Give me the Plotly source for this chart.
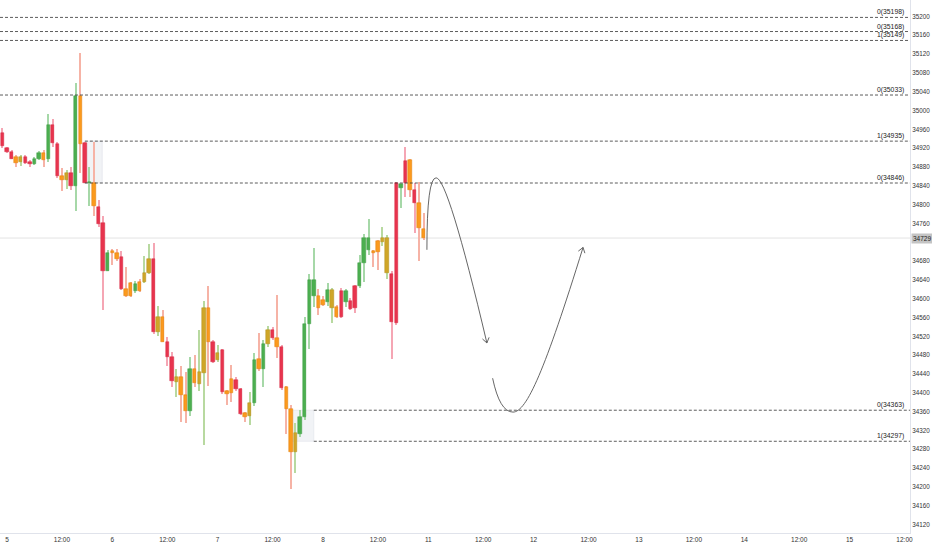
import plotly.graph_objects as go

# velas de 1 hora, barra 0 = inicio del dia 5 (23 barras por dia)
barra = list(range(-1, 92))
apertura = [34952, 34921, 34911, 34901, 34891, 34902, 34891, 34886, 34897, 34910,
            34896, 34969, 34929, 34861, 34852, 34868, 34840, 35032, 34930, 34846,
            34847, 34796, 34760, 34660, 34702, 34698, 34688, 34621, 34605, 34631,
            34617, 34636, 34655, 34684, 34530, 34562, 34509, 34477, 34424, 34434,
            34396, 34362, 34450, 34419, 34443, 34580, 34509, 34470, 34490, 34403,
            34429, 34427, 34408, 34357, 34351, 34379, 34471, 34450, 34503, 34534,
            34516, 34498, 34412, 34365, 34275, 34313, 34348, 34546, 34640, 34605,
            34587, 34594, 34619, 34583, 34562, 34617, 34595, 34580, 34626, 34675,
            34730, 34702, 34699, 34721, 34729, 34652, 34548, 34843, 34893, 34895,
            34831, 34803, 34748]
maximo = [34962, 34923, 34916, 34906, 34906, 34906, 34895, 34901, 34913, 34916,
          34993, 34982, 34934, 34877, 34874, 34881, 35058, 35122, 34934, 34879,
          34934, 34810, 34775, 34704, 34705, 34705, 34702, 34667, 34636, 34638,
          34643, 34690, 34716, 34719, 34585, 34575, 34518, 34486, 34450, 34457,
          34445, 34477, 34481, 34534, 34596, 34627, 34512, 34502, 34493, 34406,
          34459, 34433, 34410, 34360, 34401, 34484, 34527, 34512, 34542, 34539,
          34608, 34502, 34415, 34374, 34335, 34364, 34562, 34653, 34708, 34620,
          34605, 34634, 34622, 34587, 34622, 34621, 34601, 34629, 34692, 34737,
          34770, 34704, 34725, 34753, 34736, 34658, 34849, 34843, 34923, 34897,
          34845, 34849, 34782]
minimo = [34920, 34909, 34896, 34879, 34882, 34886, 34879, 34884, 34895, 34881,
          34891, 34923, 34856, 34828, 34833, 34831, 34787, 34868, 34845, 34797,
          34775, 34752, 34576, 34658, 34672, 34681, 34619, 34603, 34603, 34612,
          34615, 34633, 34653, 34525, 34520, 34507, 34456, 34413, 34392, 34339,
          34335, 34351, 34413, 34403, 34289, 34415, 34463, 34466, 34398, 34374,
          34381, 34403, 34353, 34339, 34332, 34371, 34447, 34413, 34497, 34512,
          34473, 34406, 34313, 34195, 34229, 34307, 34342, 34493, 34583, 34566,
          34585, 34585, 34548, 34558, 34560, 34583, 34576, 34569, 34622, 34636,
          34693, 34668, 34661, 34713, 34643, 34472, 34544, 34792, 34817, 34817,
          34739, 34680, 34725]
cierre = [34925, 34911, 34898, 34889, 34902, 34889, 34886, 34897, 34910, 34895,
          34969, 34930, 34861, 34852, 34868, 34840, 35032, 34929, 34847, 34848,
          34797, 34759, 34658, 34698, 34697, 34684, 34620, 34605, 34633, 34617,
          34636, 34654, 34684, 34530, 34561, 34509, 34477, 34426, 34434, 34396,
          34362, 34450, 34420, 34444, 34580, 34509, 34466, 34484, 34401, 34398,
          34399, 34408, 34355, 34349, 34379, 34470, 34450, 34503, 34534, 34516,
          34497, 34410, 34365, 34275, 34315, 34348, 34546, 34640, 34605, 34580,
          34597, 34619, 34581, 34562, 34617, 34594, 34578, 34626, 34675, 34730,
          34704, 34697, 34723, 34729, 34654, 34550, 34845, 34836, 34845, 34831,
          34803, 34750, 34729]
# g = verde, r = rojo, o = naranja, y = oliva
tipo = list("rrroyrrggogrroyrgorgorrgooroogoyyryorryoogoyyoryroorroygogyrorooyggggoogyorgrrgggooyyrrgroroo")

precio_actual = 34729
niveles = [35198, 35168, 35149, 35033, 34935, 34846, 34363, 34297]
fib = [0, 0, 1, 0, 1, 0, 0, 1]

dias = ["5", "6", "7", "8", "11", "12", "13", "14", "15"]

colores = {"g": ("#4caf50", "#a6d8a8", "#3f9c43"),
           "r": ("#e8344e", "#f5a6b4", "#d42a43"),
           "o": ("#fb9a1d", "#f6b3a6", "#e07f0a"),
           "y": ("#cfa628", "#b8d9a0", "#b38e1d")}

X_MIN, X_MAX = -1.53, 197.2
Y_MIN, Y_MAX = 34102, 35235
W_PLOT, H_PLOT = 910, 533
PXB = W_PLOT / (X_MAX - X_MIN)
PXP = H_PLOT / (Y_MAX - Y_MIN)

fig = go.Figure()

# mechas primero, cuerpos encima (todo en la capa de barras)
for t in "groy":
    ids = [i for i in range(len(barra)) if tipo[i] == t]
    fig.add_trace(go.Bar(x=[barra[i] for i in ids],
                         y=[maximo[i] - minimo[i] for i in ids],
                         base=[minimo[i] for i in ids],
                         width=0.22, marker=dict(color=colores[t][1], line=dict(width=0)),
                         showlegend=False, hoverinfo="skip"))
for t in "groy":
    ids = [i for i in range(len(barra)) if tipo[i] == t]
    fig.add_trace(go.Bar(x=[barra[i] for i in ids],
                         y=[max(abs(cierre[i] - apertura[i]), 2) for i in ids],
                         base=[min(apertura[i], cierre[i]) for i in ids],
                         width=0.74,
                         marker=dict(color=colores[t][0], line=dict(width=0.5, color=colores[t][2])),
                         showlegend=False, hoverinfo="skip"))

shapes = []
# cajas grises
for x0, x1, y0, y1 in [(17, 20.8, niveles[5], niveles[4]), (62, 67, niveles[7], niveles[6])]:
    shapes.append(dict(type="rect", xref="x", yref="y", x0=x0, x1=x1, y0=y0, y1=y1,
                       fillcolor="rgba(215,220,230,0.35)", line=dict(color="#dfe2e8", width=0.6),
                       layer="below"))

# linea de precio actual
shapes.append(dict(type="line", xref="paper", yref="y", x0=0, x1=1, y0=precio_actual, y1=precio_actual,
                   line=dict(color="#e3e3e3", width=1), layer="below"))

# niveles
inicio = [X_MIN, X_MIN, X_MIN, X_MIN, 17, 17, 67, 67]
annotations = []
for n, f, x0 in zip(niveles, fib, inicio):
    shapes.append(dict(type="line", xref="x", yref="y", x0=x0, x1=X_MAX, y0=n, y1=n,
                       line=dict(color="#333333", width=0.8, dash="3px,2px")))
    annotations.append(dict(x=0.9958, xref="paper", y=n, yref="y", text=f"{f}({n})",
                            xanchor="right", yanchor="bottom", showarrow=False, yshift=-1,
                            font=dict(size=6.8, color="#222222", family="Arial")))

# flechas dibujadas
def chevron(cx, cy, tx, ty, size=6):
    dx, dy = (tx - cx) * PXB, -(ty - cy) * PXP
    L = (dx ** 2 + dy ** 2) ** 0.5
    ux, uy = -dx / L, -dy / L
    pts = []
    for s in (1, -1):
        c, sn = 0.82, 0.57 * s
        ax, ay = (ux * c - uy * sn) * size, (ux * sn + uy * c) * size
        pts.append((tx + ax / PXB, ty - ay / PXP))
    return f"M {pts[0][0]},{pts[0][1]} L {tx},{ty} L {pts[1][0]},{pts[1][1]}"

curva1 = [(91.7, 34704), (91.7, 34857), (93.7, 34857), (96.3, 34857), (104.8, 34506)]
curva2 = [(106.05, 34431), (107.6, 34359), (110.5, 34359), (113.5, 34359), (117.5, 34449), (125.8, 34709)]

p = curva1
shapes.append(dict(type="path", xref="x", yref="y",
                   path=f"M {p[0][0]},{p[0][1]} Q {p[1][0]},{p[1][1]} {p[2][0]},{p[2][1]} "
                        f"Q {p[3][0]},{p[3][1]} {p[4][0]},{p[4][1]}",
                   line=dict(color="#555555", width=0.9)))
shapes.append(dict(type="path", xref="x", yref="y", path=chevron(*p[3], *p[4]),
                   line=dict(color="#555555", width=0.9)))
p = curva2
shapes.append(dict(type="path", xref="x", yref="y",
                   path=f"M {p[0][0]},{p[0][1]} Q {p[1][0]},{p[1][1]} {p[2][0]},{p[2][1]} "
                        f"C {p[3][0]},{p[3][1]} {p[4][0]},{p[4][1]} {p[5][0]},{p[5][1]}",
                   line=dict(color="#555555", width=0.9)))
shapes.append(dict(type="path", xref="x", yref="y", path=chevron(*p[4], *p[5]),
                   line=dict(color="#555555", width=0.9)))

# etiqueta del precio actual
annotations.append(dict(x=1, xref="paper", y=precio_actual, yref="y", text=str(precio_actual),
                        xanchor="left", yanchor="middle", showarrow=False, xshift=1,
                        bgcolor="#c4c4c4", borderpad=1,
                        font=dict(size=6.5, color="#222222", family="Arial")))

tickvals, ticktext = [], []
for i, d in enumerate(dias):
    tickvals += [23 * i, 23 * i + 12]
    ticktext += [d, "12:00"]

# la etiqueta del precio tapa la marca 34720
yticks = [v for v in range(34120, 35201, 40) if abs(v - precio_actual) > 15]

fig.update_layout(width=932, height=550, margin=dict(l=0, r=22, t=0, b=17),
                  plot_bgcolor="white", paper_bgcolor="white", barmode="overlay",
                  bargap=0, shapes=shapes, annotations=annotations, showlegend=False,
                  font=dict(family="Arial", size=6.5, color="#333333"))
fig.update_xaxes(range=[X_MIN, X_MAX], tickvals=tickvals, ticktext=ticktext, showgrid=False,
                 zeroline=False, showline=True, linecolor="#e0e3eb", linewidth=1, ticks="",
                 tickfont=dict(size=6.5, color="#333333"))
fig.update_yaxes(range=[Y_MIN, Y_MAX], side="right", tickvals=yticks,
                 ticktext=[str(v) for v in yticks], showgrid=False,
                 zeroline=False, showline=True, linecolor="#e0e3eb", linewidth=1, ticks="",
                 tickfont=dict(size=6.3, color="#333333"))

fig.write_html("out.html", config={"displayModeBar": False},
               post_script="document.body.style.margin='0';")
